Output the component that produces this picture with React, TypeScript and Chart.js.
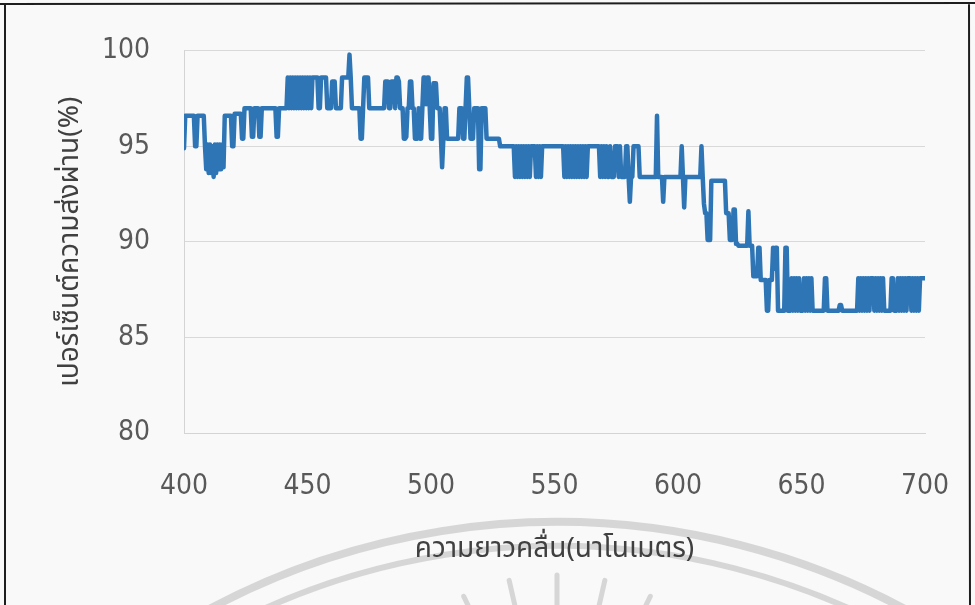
import React, { useEffect, useRef } from "react";
import { Chart, registerables } from "chart.js";

Chart.register(...registerables);

// Wavelength axis (nm): one sample every 0.5 nm starting at 400
const WAVELENGTH_START = 400;
const WAVELENGTH_STEP = 0.5;

// Percent transmittance (each row = 10 nm, 20 samples)
const TRANSMITTANCE_400_449 = [
  94.9, 96.6, 96.6, 96.6, 96.6, 96.6, 96.6, 96.6, 96.6, 95.0, 95.0, 96.6, 96.6, 96.6, 96.6, 96.6, 96.6, 95.0, 93.8, 95.1,
  93.6, 95.1, 93.6, 95.0, 93.4, 95.1, 93.6, 95.1, 93.8, 95.1, 93.8, 95.1, 93.9, 96.6, 96.6, 96.6, 96.6, 96.6, 96.6, 95.0,
  95.0, 96.7, 96.7, 96.7, 96.7, 96.7, 96.7, 95.4, 95.4, 97.0, 97.0, 97.0, 97.0, 97.0, 97.0, 95.5, 95.5, 97.0, 97.0, 97.0,
  97.0, 95.5, 95.5, 97.0, 97.0, 97.0, 97.0, 97.0, 97.0, 97.0, 97.0, 97.0, 97.0, 97.0, 97.0, 95.5, 95.5, 97.0, 97.0, 97.0,
  97.0, 97.0, 97.0, 97.0, 98.6, 97.0, 98.6, 97.0, 98.6, 97.0, 98.6, 97.0, 98.6, 97.0, 98.6, 97.0, 98.6, 97.0, 98.6, 97.0,
];
const TRANSMITTANCE_450_499 = [
  98.6, 97.0, 98.6, 97.0, 98.6, 98.6, 98.6, 98.6, 98.6, 97.0, 97.0, 98.6, 98.6, 98.6, 98.6, 98.6, 97.0, 97.0, 97.0, 97.0,
  98.4, 98.4, 98.4, 97.0, 97.0, 97.0, 97.0, 97.0, 98.6, 98.6, 98.6, 98.6, 98.6, 98.6, 99.8, 98.6, 97.0, 97.0, 97.0, 97.0,
  97.0, 97.0, 97.0, 95.4, 95.4, 97.0, 98.6, 98.6, 98.6, 98.6, 97.0, 97.0, 97.0, 97.0, 97.0, 97.0, 97.0, 97.0, 97.0, 97.0,
  97.0, 97.0, 97.0, 98.4, 98.4, 98.4, 97.0, 97.0, 98.4, 98.4, 98.4, 97.0, 98.6, 98.6, 98.4, 97.0, 97.0, 97.0, 95.4, 95.4,
  95.5, 97.0, 97.0, 98.4, 98.4, 97.0, 97.0, 95.4, 95.4, 95.4, 97.0, 95.4, 95.4, 97.0, 98.6, 98.6, 97.2, 98.6, 98.6, 97.0,
];
const TRANSMITTANCE_500_549 = [
  95.4, 95.4, 98.3, 98.3, 98.3, 97.0, 97.0, 97.0, 95.5, 93.9, 95.4, 97.0, 97.0, 95.4, 95.4, 95.4, 95.4, 95.4, 95.4, 95.4,
  95.4, 95.4, 95.4, 97.0, 97.0, 97.0, 95.4, 95.4, 97.0, 98.6, 98.6, 97.0, 95.4, 95.4, 95.4, 97.0, 97.0, 97.0, 97.0, 93.8,
  93.8, 97.0, 97.0, 97.0, 97.0, 95.4, 95.4, 95.4, 95.4, 95.4, 95.4, 95.4, 95.4, 95.4, 95.4, 95.4, 95.0, 95.0, 95.0, 95.0,
  95.0, 95.0, 95.0, 95.0, 95.0, 95.0, 95.0, 95.0, 93.4, 95.0, 93.4, 95.0, 93.4, 95.0, 93.4, 95.0, 93.4, 95.0, 93.4, 95.0,
  93.4, 95.0, 95.0, 95.0, 95.0, 93.4, 95.0, 93.4, 95.0, 93.4, 95.0, 95.0, 95.0, 95.0, 95.0, 95.0, 95.0, 95.0, 95.0, 95.0,
];
const TRANSMITTANCE_550_599 = [
  95.0, 95.0, 95.0, 95.0, 95.0, 95.0, 95.0, 95.0, 93.4, 95.0, 93.4, 95.0, 93.4, 95.0, 93.4, 95.0, 93.4, 95.0, 93.4, 95.0,
  93.4, 95.0, 93.4, 95.0, 93.4, 95.0, 93.4, 95.0, 95.0, 95.0, 95.0, 95.0, 95.0, 95.0, 95.0, 95.0, 95.0, 93.4, 95.0, 93.4,
  95.0, 93.4, 95.0, 93.4, 93.4, 95.0, 93.4, 93.4, 93.4, 95.0, 95.0, 95.0, 93.4, 95.0, 93.4, 93.4, 93.4, 93.4, 95.0, 95.0,
  93.4, 92.1, 93.4, 93.4, 95.0, 95.0, 95.0, 95.0, 95.0, 93.4, 93.4, 93.4, 93.4, 93.4, 93.4, 93.4, 93.4, 93.4, 93.4, 93.4,
  93.4, 93.4, 93.4, 96.6, 93.4, 93.4, 93.4, 93.4, 92.1, 93.4, 93.4, 93.4, 93.4, 93.4, 93.4, 93.4, 93.4, 93.4, 93.4, 93.4,
];
const TRANSMITTANCE_600_649 = [
  93.4, 93.4, 93.4, 95.0, 93.4, 91.8, 93.4, 93.4, 93.4, 93.4, 93.4, 93.4, 93.4, 93.4, 93.4, 93.4, 93.4, 93.4, 93.4, 95.0,
  93.4, 92.0, 91.5, 91.5, 90.1, 90.1, 90.1, 93.2, 93.2, 93.2, 93.2, 93.2, 93.2, 93.2, 93.2, 93.2, 93.2, 93.2, 93.2, 91.5,
  91.5, 91.5, 90.1, 90.1, 90.1, 91.7, 91.7, 89.9, 89.9, 89.8, 89.8, 89.8, 89.8, 89.8, 89.8, 89.8, 89.8, 91.6, 89.8, 89.8,
  89.8, 88.2, 88.2, 88.2, 88.2, 89.7, 89.7, 88.0, 88.0, 88.0, 88.0, 88.0, 86.4, 86.4, 88.0, 88.0, 88.0, 89.7, 88.6, 89.7,
  89.7, 86.4, 86.4, 86.4, 86.4, 86.4, 86.4, 89.7, 89.7, 86.4, 86.4, 86.4, 88.1, 86.4, 88.1, 86.4, 88.1, 86.4, 88.1, 86.4,
];
const TRANSMITTANCE_650_700 = [
  86.4, 86.4, 88.1, 86.4, 88.1, 86.4, 88.1, 86.4, 88.1, 86.4, 86.4, 86.4, 86.4, 86.4, 86.4, 86.4, 86.4, 86.4, 86.4, 88.1,
  88.1, 86.4, 86.4, 86.4, 86.4, 86.4, 86.4, 86.4, 86.4, 86.4, 86.4, 86.7, 86.7, 86.4, 86.4, 86.4, 86.4, 86.4, 86.4, 86.4,
  86.4, 86.4, 86.4, 86.4, 86.4, 86.4, 88.1, 86.4, 88.1, 86.4, 88.1, 86.4, 88.1, 86.4, 88.1, 86.4, 88.1, 88.1, 88.1, 86.4,
  88.1, 86.4, 88.1, 86.4, 88.1, 86.4, 88.1, 86.4, 86.4, 86.4, 86.4, 86.4, 86.4, 88.1, 88.1, 86.4, 86.4, 86.4, 88.1, 86.4,
  88.1, 86.4, 88.1, 86.4, 88.1, 86.4, 88.1, 88.1, 88.1, 86.4, 88.1, 86.4, 88.1, 86.4, 88.1, 86.4, 88.1, 88.1, 88.1, 88.1,
  88.1,
];

const X_TICKS = [400, 450, 500, 550, 600, 650, 700];
const Y_TICKS = [80, 85, 90, 95, 100];
const X_TITLE = "ความยาวคลื่น(นาโนเมตร)";
const Y_TITLE = "เปอร์เซ็นต์ความส่งผ่าน(%)";

const TRANSMITTANCE = [
  ...TRANSMITTANCE_400_449,
  ...TRANSMITTANCE_450_499,
  ...TRANSMITTANCE_500_549,
  ...TRANSMITTANCE_550_599,
  ...TRANSMITTANCE_600_649,
  ...TRANSMITTANCE_650_700,
];

const W = 975;
const H = 605;

const pagePlugin = {
  id: "page",
  beforeDraw(chart: any) {
    const ctx = chart.ctx;
    ctx.save();
    ctx.fillStyle = "#f9f9fa";
    ctx.fillRect(0, 0, W, H);
    // faint watermark seal (scanned page background)
    ctx.strokeStyle = "rgba(200,200,200,0.7)";
    ctx.lineWidth = 8;
    ctx.beginPath();
    ctx.arc(557, 1260, 738, Math.PI * 1.2, Math.PI * 1.8);
    ctx.stroke();
    ctx.lineWidth = 6;
    ctx.beginPath();
    ctx.arc(557, 1260, 714, Math.PI * 1.2, Math.PI * 1.8);
    ctx.stroke();
    ctx.lineWidth = 5;
    ctx.lineCap = "round";
    for (let k = -4; k <= 4; k++) {
      const a = -Math.PI / 2 + (k * Math.PI) / 14;
      ctx.beginPath();
      ctx.moveTo(557 + Math.cos(a) * 185, 790 + Math.sin(a) * 185);
      ctx.lineTo(557 + Math.cos(a) * 215, 790 + Math.sin(a) * 215);
      ctx.stroke();
    }
    ctx.restore();
  },
  afterDraw(chart: any) {
    const ctx = chart.ctx;
    ctx.save();
    ctx.strokeStyle = "#1e1e1e";
    ctx.lineWidth = 2;
    ctx.beginPath();
    ctx.moveTo(0, 4);
    ctx.lineTo(W, 3);
    ctx.moveTo(5, 4);
    ctx.lineTo(5, H);
    ctx.moveTo(969, 3);
    ctx.lineTo(970, H);
    ctx.stroke();
    ctx.restore();
  },
};

export default function App() {
  const ref = useRef<HTMLCanvasElement | null>(null);

  useEffect(() => {
    document.body.style.margin = "0";
    const canvas = ref.current;
    if (!canvas) return;
    const points = TRANSMITTANCE.map((y, i) => ({
      x: WAVELENGTH_START + i * WAVELENGTH_STEP,
      y,
    }));
    const tickFont = {
      family: "'Liberation Sans Narrow', 'DejaVu Sans Condensed', 'Noto Sans', sans-serif",
      size: 28,
    };
    const titleFont = {
      family: "'Noto Sans', 'Noto Sans Thai', sans-serif",
      size: 28,
    };
    const chart = new Chart(canvas, {
      type: "line",
      data: {
        datasets: [
          {
            data: points,
            borderColor: "#2e75b6",
            borderWidth: 4.5,
            pointRadius: 0,
            tension: 0,
            borderJoinStyle: "round",
            borderCapStyle: "round",
          },
        ],
      },
      options: {
        animation: false,
        responsive: false,
        maintainAspectRatio: false,
        layout: { padding: { top: 41, right: 50, left: 0, bottom: 0 } },
        plugins: { legend: { display: false }, tooltip: { enabled: false } },
        scales: {
          x: {
            type: "linear",
            min: 400,
            max: 700,
            afterBuildTicks: (s: any) => {
              s.ticks = X_TICKS.map((v) => ({ value: v }));
            },
            afterFit: (s: any) => {
              s.height = 172;
              s.paddingLeft = 0;
              s.paddingRight = 0;
            },
            grid: { display: false, drawTicks: false },
            border: { display: true, color: "#d4d4d4", width: 1 },
            ticks: {
              color: "#595959",
              font: tickFont,
              padding: 37,
              maxRotation: 0,
              autoSkip: false,
            },
            title: {
              display: true,
              text: X_TITLE,
              color: "#404040",
              font: titleFont,
              padding: { top: 0, bottom: 39 },
            },
          },
          y: {
            type: "linear",
            min: 80,
            max: 100,
            afterBuildTicks: (s: any) => {
              s.ticks = Y_TICKS.map((v) => ({ value: v }));
            },
            afterFit: (s: any) => {
              s.width = 184;
            },
            grid: { color: "#d9d9d9", lineWidth: 1, drawTicks: false },
            border: { display: true, color: "#d4d4d4", width: 1 },
            ticks: {
              color: "#595959",
              font: tickFont,
              padding: 34,
            },
            title: {
              display: true,
              text: Y_TITLE,
              color: "#404040",
              font: titleFont,
              padding: { top: 53, bottom: 0 },
            },
          },
        },
      },
      plugins: [pagePlugin],
    } as any);
    return () => chart.destroy();
  }, []);

  return (
    <div style={{ position: "fixed", left: 0, top: 0, width: W, height: H }}>
      <canvas ref={ref} width={W} height={H} style={{ width: W, height: H, display: "block" }} />
    </div>
  );
}
